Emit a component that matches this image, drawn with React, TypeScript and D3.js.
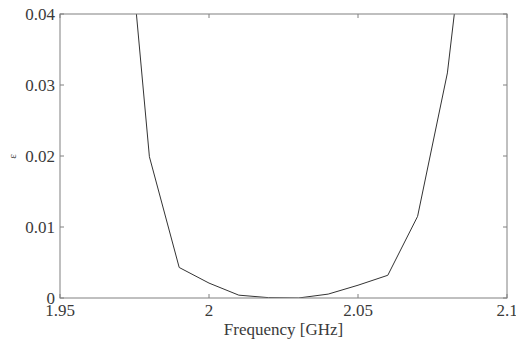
import React from "react";
import * as d3 from "d3";

const frequencies = [1.97, 1.98, 1.99, 2.0, 2.01, 2.02, 2.03, 2.04, 2.05, 2.06, 2.07, 2.08, 2.09];
const epsilonValues = [0.066, 0.0199, 0.0043, 0.0021, 0.0004, 0.00005, 0.0, 0.00055, 0.0018, 0.0032, 0.0115, 0.0317, 0.0675];
const xTicks = [1.95, 2.0, 2.05, 2.1];
const xTickLabels = ["1.95", "2", "2.05", "2.1"];
const yTicks = [0, 0.01, 0.02, 0.03, 0.04];
const yTickLabels = ["0", "0.01", "0.02", "0.03", "0.04"];
const xLabel = "Frequency [GHz]";
const yLabel = "ε";

export default function App() {
  const W = 516, H = 344;
  const left = 60, right = 507, top = 14, bottom = 298;
  const x = d3.scaleLinear().domain([1.95, 2.1]).range([left, right]);
  const y = d3.scaleLinear().domain([0, 0.04]).range([bottom, top]);
  const pts = frequencies.map((f, i) => [f, epsilonValues[i]] as [number, number]);
  const line = d3.line<[number, number]>().x(d => x(d[0])).y(d => y(d[1]));
  const font = "'Liberation Serif', 'Times New Roman', serif";
  const axisColor = "#808080";
  const textColor = "#3a3a3a";
  const tickLen = 4;
  return (
    <svg width={W} height={H} style={{ position: "absolute", left: 0, top: 0, background: "#fff" }}>
      <defs>
        <clipPath id="plotclip">
          <rect x={left} y={top} width={right - left} height={bottom - top} />
        </clipPath>
      </defs>
      <rect x={0} y={0} width={W} height={H} fill="#fff" />
      <path d={line(pts) || ""} fill="none" stroke="#333" strokeWidth={1} clipPath="url(#plotclip)" />
      <rect x={left} y={top} width={right - left} height={bottom - top} fill="none" stroke={axisColor} strokeWidth={1} />
      {xTicks.map((t, i) => (
        <g key={"x" + i}>
          <line x1={x(t)} x2={x(t)} y1={bottom} y2={bottom - tickLen} stroke={axisColor} />
          <line x1={x(t)} x2={x(t)} y1={top} y2={top + tickLen} stroke={axisColor} />
          <text x={x(t)} y={316} textAnchor="middle" fontFamily={font} fontSize={17} fill={textColor}>
            {xTickLabels[i]}
          </text>
        </g>
      ))}
      {yTicks.map((t, i) => (
        <g key={"y" + i}>
          <line x1={left} x2={left + tickLen} y1={y(t)} y2={y(t)} stroke={axisColor} />
          <line x1={right} x2={right - tickLen} y1={y(t)} y2={y(t)} stroke={axisColor} />
          <text x={55} y={y(t) + 6} textAnchor="end" fontFamily={font} fontSize={17} fill={textColor}>
            {yTickLabels[i]}
          </text>
        </g>
      ))}
      <text x={(left + right) / 2} y={335} textAnchor="middle" fontFamily={font} fontSize={17} fill={textColor}>
        {xLabel}
      </text>
      <text transform={`translate(16, 156.5) rotate(-90)`} textAnchor="middle" fontFamily={font} fontSize={11} fill={textColor}>
        {yLabel}
      </text>
    </svg>
  );
}
